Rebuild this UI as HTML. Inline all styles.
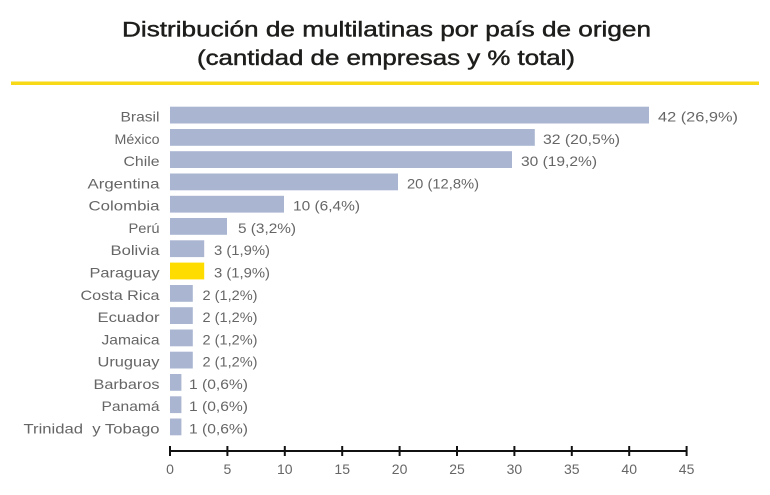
<!DOCTYPE html>
<html><head><meta charset="utf-8"><style>
html,body{margin:0;padding:0;background:#fff;}
svg{display:block;}
.t{font-family:"Liberation Sans",sans-serif;font-size:21px;fill:#1d1d1b;stroke:#1d1d1b;stroke-width:0.45;}
.l{font-family:"Liberation Sans",sans-serif;font-size:14px;fill:#666;}
.v{font-family:"Liberation Sans",sans-serif;font-size:14px;fill:#666;}
.a{font-family:"Liberation Sans",sans-serif;font-size:14px;fill:#666;}
</style></head><body>
<svg width="770" height="495" viewBox="0 0 770 495" xmlns="http://www.w3.org/2000/svg">
<text class="t" x="122" y="36.7" textLength="529" lengthAdjust="spacingAndGlyphs">Distribución de multilatinas por país de origen</text>
<text class="t" x="197" y="65" textLength="378" lengthAdjust="spacingAndGlyphs">(cantidad de empresas y % total)</text>
<rect x="11" y="81.5" width="748" height="3.5" fill="#f7d917"/>

<g fill="#aab5d2">
<rect x="170" y="106.7" width="479" height="16.8"/>
<rect x="170" y="129" width="364.8" height="16.8"/>
<rect x="170" y="151.2" width="342" height="16.8"/>
<rect x="170" y="173.5" width="228" height="16.8"/>
<rect x="170" y="195.8" width="114" height="16.8"/>
<rect x="170" y="218" width="57" height="16.8"/>
<rect x="170" y="240.3" width="34.2" height="16.8"/>
<rect x="170" y="285" width="22.8" height="16.8"/>
<rect x="170" y="307.2" width="22.8" height="16.8"/>
<rect x="170" y="329.5" width="22.8" height="16.8"/>
<rect x="170" y="351.7" width="22.8" height="16.8"/>
<rect x="170" y="374" width="11.4" height="16.8"/>
<rect x="170" y="396.3" width="11.4" height="16.8"/>
<rect x="170" y="418.5" width="11.4" height="16.8"/>
</g>
<rect x="170" y="262.6" width="34.2" height="16.8" fill="#ffdc00"/>

<g class="l" text-anchor="end">
<text x="159.5" y="121.5" textLength="39" lengthAdjust="spacingAndGlyphs">Brasil</text>
<text x="159.5" y="143.8" textLength="45" lengthAdjust="spacingAndGlyphs">M&#233;xico</text>
<text x="159.5" y="166" textLength="36" lengthAdjust="spacingAndGlyphs">Chile</text>
<text x="159.5" y="188.3" textLength="72" lengthAdjust="spacingAndGlyphs">Argentina</text>
<text x="159.5" y="210.6" textLength="71" lengthAdjust="spacingAndGlyphs">Colombia</text>
<text x="159.5" y="232.8" textLength="31" lengthAdjust="spacingAndGlyphs">Perú</text>
<text x="159.5" y="255.1" textLength="49" lengthAdjust="spacingAndGlyphs">Bolivia</text>
<text x="159.5" y="277.4" textLength="70" lengthAdjust="spacingAndGlyphs">Paraguay</text>
<text x="159.5" y="299.8" textLength="79" lengthAdjust="spacingAndGlyphs">Costa Rica</text>
<text x="159.5" y="322" textLength="62" lengthAdjust="spacingAndGlyphs">Ecuador</text>
<text x="159.5" y="344.3" textLength="58" lengthAdjust="spacingAndGlyphs">Jamaica</text>
<text x="159.5" y="366.5" textLength="62" lengthAdjust="spacingAndGlyphs">Uruguay</text>
<text x="159.5" y="388.8" textLength="66" lengthAdjust="spacingAndGlyphs">Barbaros</text>
<text x="159.5" y="411.1" textLength="58" lengthAdjust="spacingAndGlyphs">Panamá</text>
<text x="159.5" y="433.3" textLength="136" lengthAdjust="spacingAndGlyphs" xml:space="preserve">Trinidad  y Tobago</text>
</g>

<g class="v">
<text x="658" y="121.5" textLength="80" lengthAdjust="spacingAndGlyphs">42 (26,9%)</text>
<text x="543" y="143.8" textLength="77" lengthAdjust="spacingAndGlyphs">32 (20,5%)</text>
<text x="521" y="166" textLength="76" lengthAdjust="spacingAndGlyphs">30 (19,2%)</text>
<text x="407" y="188.3" textLength="72" lengthAdjust="spacingAndGlyphs">20 (12,8%)</text>
<text x="293" y="210.6" textLength="67" lengthAdjust="spacingAndGlyphs">10 (6,4%)</text>
<text x="238" y="232.8" textLength="58" lengthAdjust="spacingAndGlyphs">5 (3,2%)</text>
<text x="214" y="255.1" textLength="56" lengthAdjust="spacingAndGlyphs">3 (1,9%)</text>
<text x="214" y="277.4" textLength="56" lengthAdjust="spacingAndGlyphs">3 (1,9%)</text>
<text x="202.5" y="299.8" textLength="55" lengthAdjust="spacingAndGlyphs">2 (1,2%)</text>
<text x="202.5" y="322" textLength="55" lengthAdjust="spacingAndGlyphs">2 (1,2%)</text>
<text x="202.5" y="344.3" textLength="55" lengthAdjust="spacingAndGlyphs">2 (1,2%)</text>
<text x="202.5" y="366.5" textLength="55" lengthAdjust="spacingAndGlyphs">2 (1,2%)</text>
<text x="189" y="388.8" textLength="59" lengthAdjust="spacingAndGlyphs">1 (0,6%)</text>
<text x="189" y="411.1" textLength="59" lengthAdjust="spacingAndGlyphs">1 (0,6%)</text>
<text x="189" y="433.3" textLength="59" lengthAdjust="spacingAndGlyphs">1 (0,6%)</text>
</g>

<line x1="170" y1="451" x2="686.7" y2="451" stroke="#111" stroke-width="2"/>
<g stroke="#111" stroke-width="2">
<line x1="170" y1="446" x2="170" y2="456"/>
<line x1="227.4" y1="446" x2="227.4" y2="456"/>
<line x1="284.8" y1="446" x2="284.8" y2="456"/>
<line x1="342.2" y1="446" x2="342.2" y2="456"/>
<line x1="399.6" y1="446" x2="399.6" y2="456"/>
<line x1="457" y1="446" x2="457" y2="456"/>
<line x1="514.4" y1="446" x2="514.4" y2="456"/>
<line x1="571.8" y1="446" x2="571.8" y2="456"/>
<line x1="629.2" y1="446" x2="629.2" y2="456"/>
<line x1="686.6" y1="446" x2="686.6" y2="456"/>
</g>
<g class="a" text-anchor="middle">
<text x="170" y="474">0</text>
<text x="227.4" y="474">5</text>
<text x="284.8" y="474">10</text>
<text x="342.2" y="474">15</text>
<text x="399.6" y="474">20</text>
<text x="457" y="474">25</text>
<text x="514.4" y="474">30</text>
<text x="571.8" y="474">35</text>
<text x="629.2" y="474">40</text>
<text x="686.6" y="474">45</text>
</g>
</svg>
</body></html>
